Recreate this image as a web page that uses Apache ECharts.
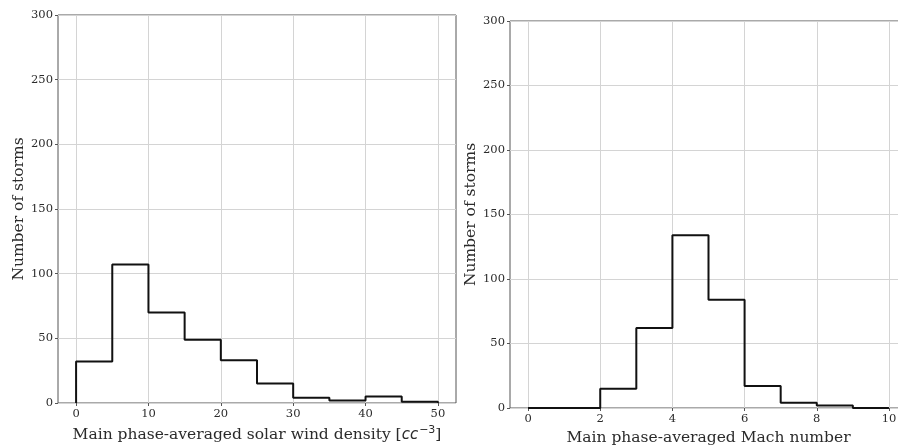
<!DOCTYPE html>
<html>
<head>
<meta charset="utf-8">
<script src="https://cdn.jsdelivr.net/npm/echarts@6/dist/echarts.min.js"></script>
<style>
  html, body { margin: 0; padding: 0; background: #fff; }
  #chart { width: 898px; height: 445px; }
</style>
</head>
<body>
<div id="chart"></div>
<script>
// Histogram bin edges and storm counts
const densityEdges = [0, 5, 10, 15, 20, 25, 30, 35, 40, 45, 50];
const densityCounts = [32, 107, 70, 49, 33, 15, 4, 2, 5, 1];
const machEdges = [0, 1, 2, 3, 4, 5, 6, 7, 8, 9, 10];
const machCounts = [0, 0, 15, 62, 134, 84, 17, 4, 2, 0];

const densityTicks = [0, 10, 20, 30, 40, 50];
const machTicks = [0, 2, 4, 6, 8, 10];
const countTicks = { min: 0, max: 300, interval: 50 };

const yTitle = 'Number of storms';
const densityTitle = 'Main phase-averaged solar wind density [{i|cc}{sup|\u22123}]';
const machTitle = 'Main phase-averaged Mach number';

// Outline of a step histogram: rise at the first edge, hold each count, drop at the last edge
function stepOutline(edges, counts) {
  const pts = [[edges[0], 0]];
  for (let i = 0; i < counts.length; i++) pts.push([edges[i], counts[i]]);
  pts.push([edges[edges.length - 1], counts[counts.length - 1]]);
  pts.push([edges[edges.length - 1], 0]);
  return pts;
}

const SERIF = 'DejaVu Serif';
const textColor = '#2b2b2b';
const spineColor = '#555';
const gridColor = '#d4d4d4';

function xAxisFor(gridIndex, min, max, ticks, title) {
  return {
    type: 'value', gridIndex, min, max,
    name: title, nameLocation: 'middle', nameGap: 22,
    nameTextStyle: {
      fontFamily: SERIF, fontSize: 15.5, color: textColor,
      rich: {
        i: { fontFamily: 'DejaVu Sans', fontStyle: 'italic', fontSize: 15, color: textColor },
        sup: { fontFamily: 'DejaVu Sans', fontSize: 11, color: textColor, padding: [0, 0, 9, 1] }
      }
    },
    axisLine: { show: false, onZero: false },
    axisTick: { show: true, customValues: ticks, length: 3, lineStyle: { color: spineColor } },
    axisLabel: { customValues: ticks, fontFamily: SERIF, fontSize: 11.5, color: textColor, margin: 5 },
    splitLine: { show: true, lineStyle: { color: gridColor, width: 1 } }
  };
}

function yAxisFor(gridIndex, gap) {
  return {
    type: 'value', gridIndex,
    min: countTicks.min, max: countTicks.max, interval: countTicks.interval,
    name: yTitle, nameLocation: 'middle', nameGap: gap,
    nameTextStyle: { fontFamily: SERIF, fontSize: 15.5, color: textColor },
    axisLine: { show: false, onZero: false },
    axisTick: { show: true, length: 3, lineStyle: { color: spineColor } },
    axisLabel: { fontFamily: SERIF, fontSize: 11.5, color: textColor, margin: 5 },
    splitLine: { show: true, lineStyle: { color: gridColor, width: 1 } }
  };
}

const lineStyle = { color: '#111', width: 2 };

const chart = echarts.init(document.getElementById('chart'), null, { renderer: 'canvas' });
chart.setOption({
  backgroundColor: '#fff',
  animation: false,
  grid: [
    { left: 58, top: 15, width: 398, height: 388, outerBoundsMode: 'none', containLabel: false,
      show: true, borderColor: spineColor, borderWidth: 1, backgroundColor: 'transparent' },
    { left: 510, top: 21, width: 397, height: 387, outerBoundsMode: 'none', containLabel: false,
      show: true, borderColor: spineColor, borderWidth: 1, backgroundColor: 'transparent' }
  ],
  xAxis: [
    xAxisFor(0, -2.5, 52.5, densityTicks, densityTitle),
    xAxisFor(1, -0.5, 10.5, machTicks, machTitle)
  ],
  yAxis: [yAxisFor(0, 31), yAxisFor(1, 31)],
  series: [
    {
      type: 'line', xAxisIndex: 0, yAxisIndex: 0, step: 'end',
      symbol: 'none', lineStyle, data: stepOutline(densityEdges, densityCounts), z: 5
    },
    {
      type: 'line', xAxisIndex: 1, yAxisIndex: 1, step: 'end',
      symbol: 'none', lineStyle, data: stepOutline(machEdges, machCounts), z: 5
    }
  ]
});
</script>
</body>
</html>
